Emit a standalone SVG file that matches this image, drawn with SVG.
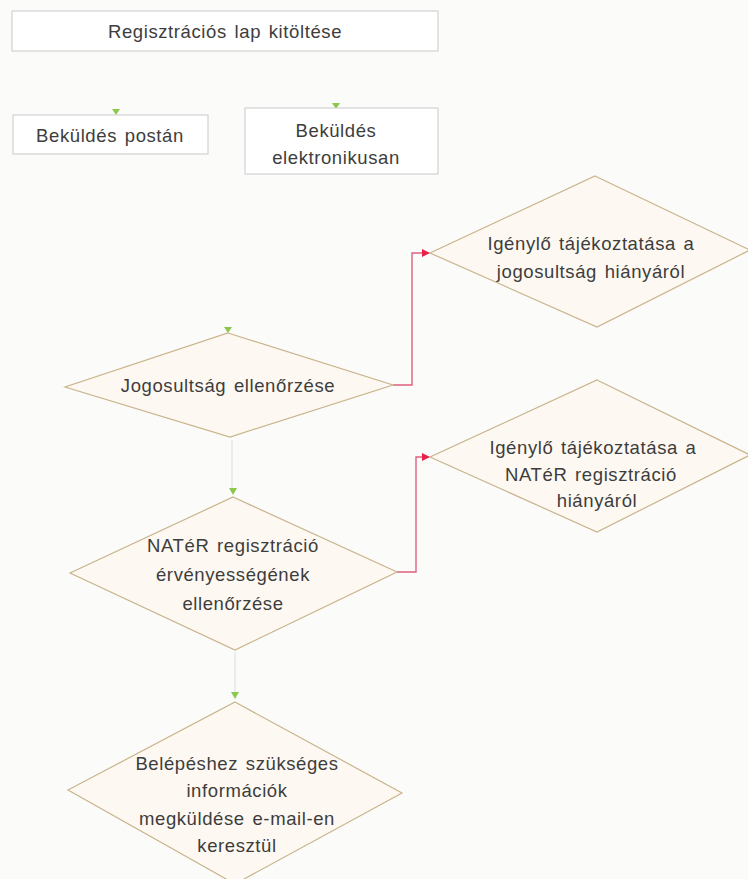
<svg xmlns="http://www.w3.org/2000/svg" width="748" height="879" viewBox="0 0 748 879">
<style>
.box{fill:#ffffff;stroke:#c9c9c9;stroke-width:1}
.dia{fill:#fdf9f2;stroke:#c9b48c;stroke-width:1.2}
.t{font-family:"Liberation Sans",Arial,sans-serif;font-size:18.5px;letter-spacing:0.6px;word-spacing:2px;fill:#3d3d3d;text-anchor:middle}
.red{fill:none;stroke:#e0607e;stroke-width:1.4}
.faint{fill:none;stroke:#e2e2e2;stroke-width:1.2}
.tip{fill:#8cc84b}
</style>
<defs>
<marker id="ar" markerWidth="8" markerHeight="8" refX="7" refY="4" orient="auto" markerUnits="userSpaceOnUse">
<path d="M0,0 L8,4 L0,8 z" fill="#e8204a"/>
</marker>
</defs>
<rect width="748" height="879" fill="#fbfbfa"/>
<g id="connectors">
<path class="faint" d="M232,440 L232,488"/>
<path class="faint" d="M235,652 L235,694"/>
<path class="red" d="M393,385 L412,385 L412,253 L429,253" marker-end="url(#ar)"/>
<path class="red" d="M397,572 L416,572 L416,457 L429,457" marker-end="url(#ar)"/>
<path class="tip" d="M112,109 L120,109 L116,115 z"/>
<path class="tip" d="M332,103 L340,103 L336,109 z"/>
<path class="tip" d="M224,327 L232,327 L228,333 z"/>
<path class="tip" d="M229,488 L237,488 L233,495 z"/>
<path class="tip" d="M231,692 L239,692 L235,699 z"/>
</g>
<g id="n1">
<rect class="box" x="12" y="11" width="426" height="40"/>
<text class="t" x="225" y="38">Regisztrációs lap kitöltése</text>
</g>
<g id="n2">
<rect class="box" x="13" y="115" width="195" height="39"/>
<text class="t" x="110" y="142">Beküldés postán</text>
</g>
<g id="n3">
<rect class="box" x="245" y="108" width="193" height="66"/>
<text class="t" x="336" y="137">Beküldés</text>
<text class="t" x="336" y="164">elektronikusan</text>
</g>
<g id="n4">
<polygon class="dia" points="595,176 750,250 597,327 430,253"/>
<text class="t" x="591" y="250">Igénylő tájékoztatása a</text>
<text class="t" x="591" y="278">jogosultság hiányáról</text>
</g>
<g id="n5">
<polygon class="dia" points="228,333 393,385 230,437 65,387"/>
<text class="t" x="228" y="392">Jogosultság ellenőrzése</text>
</g>
<g id="n6">
<polygon class="dia" points="597,380 750,455 597,532 430,457"/>
<text class="t" x="593" y="454">Igénylő tájékoztatása a</text>
<text class="t" x="591" y="481">NATéR regisztráció</text>
<text class="t" x="597" y="507">hiányáról</text>
</g>
<g id="n7">
<polygon class="dia" points="233,497 397,572 235,650 70,573"/>
<text class="t" x="233" y="552">NATéR regisztráció</text>
<text class="t" x="233" y="581">érvényességének</text>
<text class="t" x="233" y="610">ellenőrzése</text>
</g>
<g id="n8">
<polygon class="dia" points="235,702 402,793 235,884 68,790"/>
<text class="t" x="237" y="770">Belépéshez szükséges</text>
<text class="t" x="237" y="797">információk</text>
<text class="t" x="237" y="825">megküldése e-mail-en</text>
<text class="t" x="237" y="852">keresztül</text>
</g>
</svg>
